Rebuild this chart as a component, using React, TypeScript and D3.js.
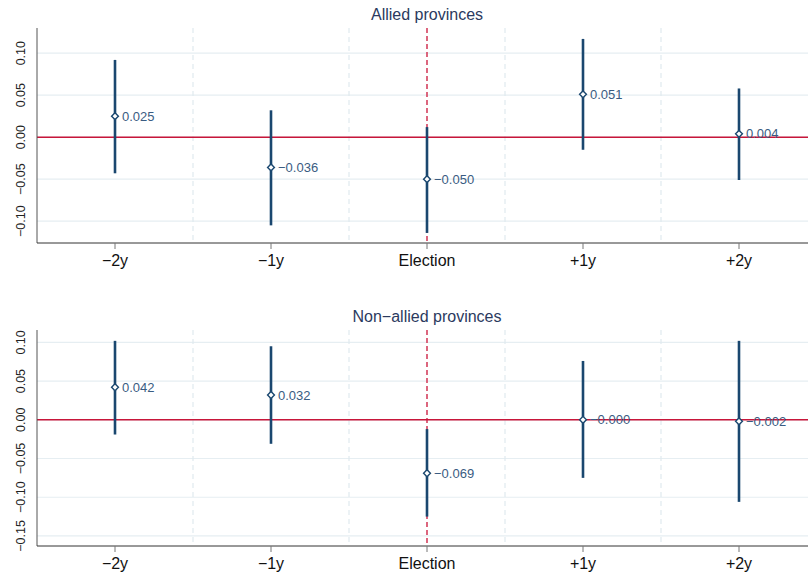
import React from "react";
import * as d3 from "d3";

const categories = ["−2y", "−1y", "Election", "+1y", "+2y"];

const alliedEst = [0.025, -0.036, -0.05, 0.051, 0.004];
const alliedLo = [-0.043, -0.105, -0.114, -0.015, -0.051];
const alliedHi = [0.092, 0.032, 0.012, 0.117, 0.058];
const alliedLabels = ["0.025", "−0.036", "−0.050", "0.051", "0.004"];

const nonAlliedEst = [0.042, 0.032, -0.069, -0.0, -0.002];
const nonAlliedLo = [-0.019, -0.031, -0.125, -0.075, -0.106];
const nonAlliedHi = [0.102, 0.095, -0.012, 0.076, 0.102];
const nonAlliedLabels = ["0.042", "0.032", "−0.069", "−0.000", "−0.002"];

const alliedTicks = [-0.1, -0.05, 0, 0.05, 0.1];
const nonAlliedTicks = [-0.15, -0.1, -0.05, 0, 0.05, 0.1];

const FONT = "'Liberation Sans', Arial, Helvetica, sans-serif";
const NAVY = "#1a476f";
const LABEL = "#3a5c82";
const TITLE = "#2b3a5e";
const RED = "#c8163a";
const GRID = "#e6eef2";

type PanelProps = {
  title: string;
  top: number;
  bottom: number;
  titleY: number;
  domain: [number, number];
  ticks: number[];
  est: number[];
  lo: number[];
  hi: number[];
  labels: string[];
};

const LEFT = 37;
const STEP = 156;

function Panel(p: PanelProps) {
  const x = d3
    .scaleBand<string>()
    .domain(categories)
    .range([LEFT, LEFT + STEP * categories.length])
    .padding(0);
  const bw = x.bandwidth();
  const cx = (c: string) => (x(c) as number) + bw / 2;
  const y = d3.scaleLinear().domain(p.domain).range([p.bottom, p.top]);
  const fmt = (v: number) => d3.format(".2f")(v).replace("-", "−");
  const right = 808;
  const diamond = d3.symbol().type(d3.symbolDiamond2).size(30)();

  return (
    <g>
      <text
        x={427}
        y={p.titleY}
        textAnchor="middle"
        fontSize={16}
        fill={TITLE}
        fontFamily={FONT}
      >
        {p.title}
      </text>
      {p.ticks.map((t) => (
        <line
          key={"g" + t}
          x1={LEFT}
          x2={right}
          y1={y(t)}
          y2={y(t)}
          stroke={GRID}
          strokeWidth={1.2}
        />
      ))}
      {categories.slice(1).map((c) => (
        <line
          key={"s" + c}
          x1={x(c) as number}
          x2={x(c) as number}
          y1={p.top}
          y2={p.bottom}
          stroke="#dfe9ee"
          strokeWidth={1.2}
          strokeDasharray="5,4"
        />
      ))}
      <line
        x1={cx("Election")}
        x2={cx("Election")}
        y1={p.top}
        y2={p.bottom}
        stroke="#d4405e"
        strokeWidth={1.6}
        strokeDasharray="5,3"
      />
      <line x1={LEFT} x2={right} y1={y(0)} y2={y(0)} stroke={RED} strokeWidth={1.4} />
      <line x1={LEFT} x2={LEFT} y1={p.top} y2={p.bottom} stroke="#555" strokeWidth={1} />
      <line x1={LEFT} x2={right} y1={p.bottom} y2={p.bottom} stroke="#333" strokeWidth={1} />
      {categories.map((c) => (
        <g key={"t" + c}>
          <line
            x1={cx(c)}
            x2={cx(c)}
            y1={p.bottom}
            y2={p.bottom + 6}
            stroke="#777"
            strokeWidth={1}
          />
          <text
            x={cx(c)}
            y={p.bottom + 22.5}
            textAnchor="middle"
            fontSize={16}
            fill="#111"
            fontFamily={FONT}
          >
            {c}
          </text>
        </g>
      ))}
      {p.ticks.map((t) => (
        <text
          key={"yl" + t}
          transform={`translate(25,${y(t)}) rotate(-90)`}
          textAnchor="middle"
          fontSize={12.5}
          fill="#222"
          fontFamily={FONT}
        >
          {fmt(t)}
        </text>
      ))}
      {categories.map((c, i) => (
        <g key={"d" + c}>
          <line
            x1={cx(c)}
            x2={cx(c)}
            y1={y(p.lo[i])}
            y2={y(p.hi[i])}
            stroke={NAVY}
            strokeWidth={2.6}
          />
          <path
            d={diamond as string}
            transform={`translate(${cx(c)},${y(p.est[i])})`}
            fill="#fff"
            stroke={NAVY}
            strokeWidth={1.4}
          />
          <text
            x={cx(c) + 7}
            y={y(p.est[i])}
            dy="0.35em"
            fontSize={13}
            fill={LABEL}
            fontFamily={FONT}
          >
            {p.labels[i]}
          </text>
        </g>
      ))}
    </g>
  );
}

export default function App() {
  return (
    <svg
      width={808}
      height={573}
      style={{ position: "absolute", left: 0, top: 0, background: "#fff" }}
    >
      <rect width={808} height={573} fill="#fff" />
      <Panel
        title="Allied provinces"
        top={28}
        bottom={243}
        titleY={19.8}
        domain={[-0.126, 0.13]}
        ticks={alliedTicks}
        est={alliedEst}
        lo={alliedLo}
        hi={alliedHi}
        labels={alliedLabels}
      />
      <Panel
        title="Non−allied provinces"
        top={330}
        bottom={546}
        titleY={322}
        domain={[-0.163, 0.116]}
        ticks={nonAlliedTicks}
        est={nonAlliedEst}
        lo={nonAlliedLo}
        hi={nonAlliedHi}
        labels={nonAlliedLabels}
      />
    </svg>
  );
}
